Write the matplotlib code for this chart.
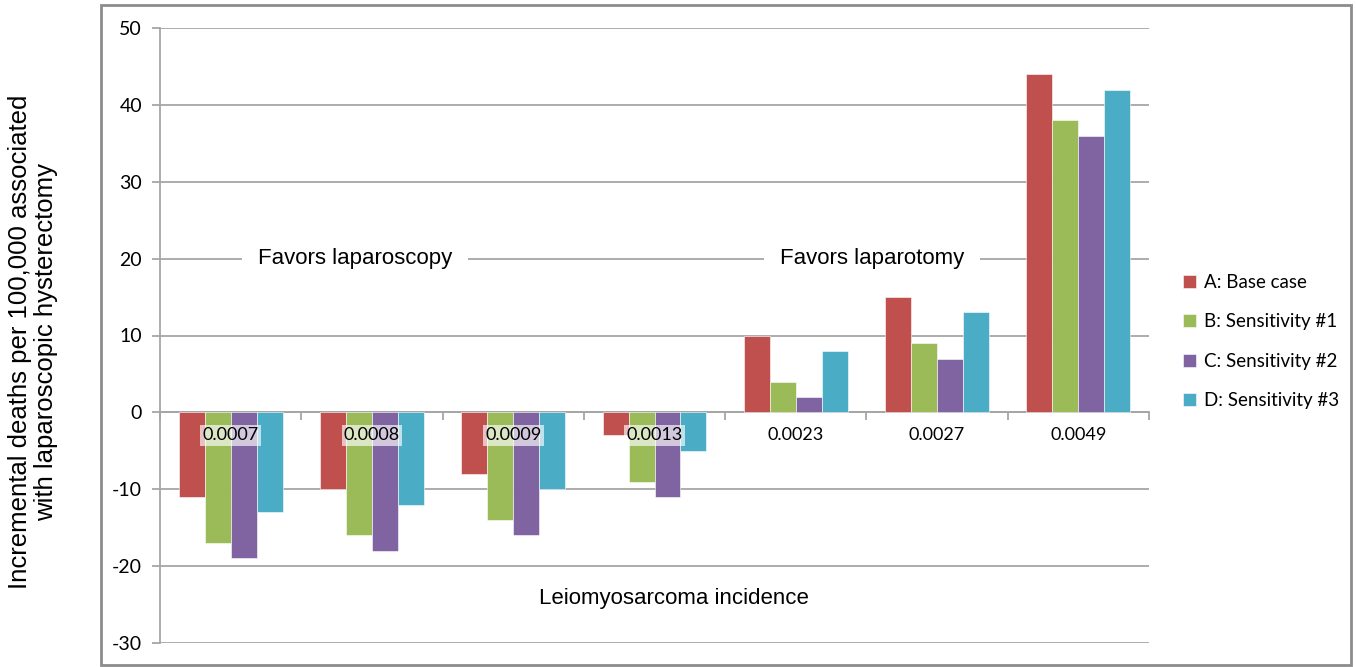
import numpy as np
import matplotlib.pyplot as plt
from matplotlib.patches import Rectangle

# data
incidence = ["0.0007", "0.0008", "0.0009", "0.0013", "0.0023", "0.0027", "0.0049"]
series_names = ["A: Base case", "B: Sensitivity #1", "C: Sensitivity #2", "D: Sensitivity #3"]
base_case = [-11, -10, -8, -3, 10, 15, 44]
sens_1 = [-17, -16, -14, -9, 4, 9, 38]
sens_2 = [-19, -18, -16, -11, 2, 7, 36]
sens_3 = [-13, -12, -10, -5, 8, 13, 42]
colors = ["#c0504d", "#9bbb59", "#8064a2", "#4bacc6"]

plt.rcParams["axes.unicode_minus"] = False
num_font = "Lato"
txt_font = "Liberation Sans"
grid_col = "#a6a6a6"

fig = plt.figure(figsize=(13.56, 6.67), dpi=100)
# outer chart frame
fig.patches.append(Rectangle((101 / 1356, 1 - 665 / 667), 1250 / 1356, 660 / 667,
                             transform=fig.transFigure, fill=False,
                             edgecolor="#8c8c8c", linewidth=2))

ax = fig.add_axes([160 / 1356, 1 - 643 / 667, 989 / 1356, 615 / 667])

x = np.arange(len(incidence))
w = 0.184
all_series = [base_case, sens_1, sens_2, sens_3]
for j, vals in enumerate(all_series):
    ax.bar(x + (j - 1.5) * w, vals, width=w, color=colors[j],
           label=series_names[j], zorder=3, edgecolor="white", linewidth=0.4)

ax.set_xlim(-0.5, len(incidence) - 0.5)
ax.set_ylim(-30, 50)
ax.set_yticks(np.arange(-30, 51, 10))
ax.yaxis.grid(True, color=grid_col, linewidth=1.3, zorder=0)
ax.set_axisbelow(True)

for s in ["top", "right"]:
    ax.spines[s].set_visible(False)
ax.spines["left"].set_color(grid_col)
ax.spines["left"].set_linewidth(1.3)
ax.spines["bottom"].set_position(("data", 0))
ax.spines["bottom"].set_color(grid_col)
ax.spines["bottom"].set_linewidth(1.3)

ax.set_xticks(np.arange(-0.5, len(incidence), 1.0))
ax.set_xticklabels([])
ax.tick_params(axis="x", length=6, color=grid_col, width=1.3)
ax.tick_params(axis="y", length=6, color=grid_col, width=1.3, pad=7,
               labelsize=14)
for lab in ax.get_yticklabels():
    lab.set_fontfamily(num_font)

# category labels just under the zero line
for i, name in enumerate(incidence):
    ax.text(i, -3, name, ha="center", va="center", fontsize=13,
            family=num_font, zorder=5,
            bbox=dict(boxstyle="square,pad=0.12", facecolor="white",
                      edgecolor="none", alpha=0.65))

box = dict(boxstyle="square,pad=0.7", facecolor="white", edgecolor="none")
ax.text(0.88, 20, "Favors laparoscopy", ha="center", va="center",
        fontsize=16, family=txt_font, zorder=2, bbox=box)
ax.text(4.54, 20, "Favors laparotomy", ha="center", va="center",
        fontsize=16, family=txt_font, zorder=2, bbox=box)

ax.text(3.14, -24.2, "Leiomyosarcoma incidence", ha="center", va="center",
        fontsize=16, family=txt_font)

fig.text(33 / 1356, 1 - 342 / 667,
         "Incremental deaths per 100,000 associated\nwith laparoscopic hysterectomy",
         rotation=90, ha="center", va="center", fontsize=18.5, family=txt_font,
         linespacing=1.12)

leg = ax.legend(loc="upper left", bbox_to_anchor=(1.017, 0.628), frameon=False,
                prop={"family": num_font, "size": 13.5}, handlelength=0.7,
                handleheight=0.7, handletextpad=0.45, labelspacing=1.2)

fig.savefig("out.png", dpi=100)
